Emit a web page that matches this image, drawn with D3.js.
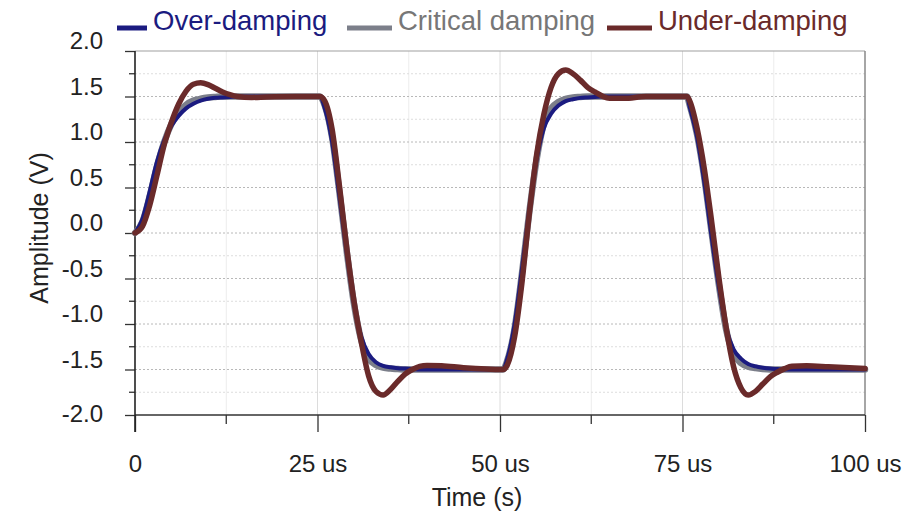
<!DOCTYPE html>
<html>
<head>
<meta charset="utf-8">
<script src="https://cdn.jsdelivr.net/npm/d3@7"></script>
<style>
  html, body { margin: 0; padding: 0; background: #fff; }
  svg text { font-family: "Liberation Sans", Arial, sans-serif; }
</style>
</head>
<body>
<svg id="chart" width="924" height="516"></svg>
<script>
// Sample times (microseconds)
const times = [
  0, 1, 2, 3, 4, 5, 6, 7, 8, 9, 10, 11, 12, 13, 14, 16, 18, 22,
  25.3, 26, 27, 28, 29, 30, 31, 32, 33, 34, 35, 36, 37, 38, 39, 40, 42, 45,
  50.4, 51, 52, 53, 54, 55, 56, 57, 58, 59, 60, 61, 62, 63, 64, 65, 67, 70,
  75.6, 76, 77, 78, 79, 80, 81, 82, 83, 84, 85, 86, 87, 88, 89, 90, 92, 95, 100
];

// Amplitude (V) of each response
const overDamping = [
  0, 0.15, 0.45, 0.78, 1.02, 1.18, 1.29, 1.37, 1.42, 1.455, 1.475, 1.485, 1.49, 1.495, 1.5, 1.5, 1.5, 1.5,
  1.5, 1.37, 1.0, 0.4, -0.22, -0.78, -1.14, -1.33, -1.42, -1.46, -1.475, -1.485, -1.49, -1.495, -1.5, -1.5, -1.5, -1.5,
  -1.5, -1.38, -1.0, -0.4, 0.25, 0.8, 1.15, 1.31, 1.4, 1.45, 1.47, 1.485, 1.49, 1.495, 1.5, 1.5, 1.5, 1.5,
  1.5, 1.38, 1.05, 0.55, -0.05, -0.6, -1.05, -1.28, -1.38, -1.44, -1.465, -1.48, -1.49, -1.495, -1.5, -1.5, -1.5, -1.5, -1.5
];
const criticalDamping = [
  0, 0.12, 0.4, 0.73, 1.0, 1.2, 1.33, 1.41, 1.455, 1.475, 1.488, 1.495, 1.5, 1.5, 1.5, 1.5, 1.5, 1.5,
  1.5, 1.4, 1.05, 0.45, -0.2, -0.78, -1.18, -1.38, -1.45, -1.48, -1.49, -1.495, -1.5, -1.5, -1.5, -1.5, -1.5, -1.5,
  -1.5, -1.4, -1.05, -0.45, 0.22, 0.8, 1.2, 1.37, 1.44, 1.475, 1.49, 1.495, 1.5, 1.5, 1.5, 1.5, 1.5, 1.5,
  1.5, 1.4, 1.08, 0.6, 0.0, -0.58, -1.07, -1.33, -1.43, -1.47, -1.485, -1.495, -1.5, -1.5, -1.5, -1.5, -1.5, -1.5, -1.5
];
const underDamping = [
  0, 0.07, 0.3, 0.63, 0.97, 1.22, 1.42, 1.56, 1.635, 1.65, 1.63, 1.59, 1.55, 1.52, 1.5, 1.49, 1.495, 1.5,
  1.5, 1.45, 1.14, 0.52, -0.16, -0.75, -1.2, -1.57, -1.74, -1.78, -1.72, -1.63, -1.55, -1.5, -1.465, -1.455, -1.46, -1.48,
  -1.5, -1.45, -1.14, -0.55, 0.2, 0.85, 1.3, 1.6, 1.75, 1.79, 1.75, 1.68, 1.6, 1.55, 1.505, 1.48, 1.48, 1.5,
  1.5, 1.45, 1.15, 0.7, 0.12, -0.5, -1.05, -1.47, -1.7, -1.78, -1.74, -1.66, -1.58, -1.53, -1.49, -1.465, -1.46, -1.47, -1.49
];

const seriesNames = ["Over-damping", "Critical damping", "Under-damping"];
const xTickValues = [0, 25, 50, 75, 100];
const xTickLabels = ["0", "25 us", "50 us", "75 us", "100 us"];
const yTickValues = [-2, -1.5, -1, -0.5, 0, 0.5, 1, 1.5, 2];
const xAxisTitle = "Time (s)";
const yAxisTitle = "Amplitude (V)";

// ---- layout & styling ----
const W = 924, H = 516;
const plot = { left: 135, right: 865, top: 51, bottom: 415 };
const colors = {
  "Over-damping": "#1b1b80",
  "Critical damping": "#7c7f8a",
  "Under-damping": "#6a2a2a"
};
const textColors = {
  "Over-damping": "#1b1b80",
  "Critical damping": "#777777",
  "Under-damping": "#6a2a2a"
};
const widths = { "Over-damping": 4, "Critical damping": 6.5, "Under-damping": 5.5 };

const svg = d3.select("#chart");
svg.append("rect").attr("width", W).attr("height", H).attr("fill", "#fff");

const x = d3.scaleLinear().domain([0, 100]).range([plot.left, plot.right]);
const y = d3.scaleLinear().domain([-2, 2]).range([plot.bottom, plot.top]);

// grid
const grid = svg.append("g");
const minorX = d3.range(12.5, 100, 12.5);
grid.selectAll("line.vx").data(minorX).join("line")
  .attr("x1", d => x(d)).attr("x2", d => x(d))
  .attr("y1", plot.top).attr("y2", plot.bottom)
  .attr("stroke", d => d % 25 === 0 ? "#dcdcdc" : "#ececec")
  .attr("stroke-width", 1);

const gridY = d3.range(-1.75, 2, 0.25);
grid.selectAll("line.hy").data(gridY).join("line")
  .attr("x1", plot.left).attr("x2", plot.right)
  .attr("y1", d => y(d)).attr("y2", d => y(d))
  .attr("stroke", d => Math.abs(d * 2 - Math.round(d * 2)) < 1e-9 ? "#b8b8b8" : "#dddddd")
  .attr("stroke-width", 1)
  .attr("stroke-dasharray", "2,2");

// top and right frame
svg.append("line")
  .attr("x1", plot.left).attr("x2", plot.right)
  .attr("y1", y(2)).attr("y2", y(2))
  .attr("stroke", "#a0a0a0").attr("stroke-width", 1.2);
svg.append("line")
  .attr("x1", x(100)).attr("x2", x(100))
  .attr("y1", y(2)).attr("y2", plot.bottom)
  .attr("stroke", "#888").attr("stroke-width", 1.5);

// axes
const fmt1 = d3.format(".1f");
const fmtY = d => fmt1(d).replace("\u2212", "-");
const yAxis = d3.axisLeft(y)
  .tickValues(yTickValues)
  .tickSize(10)
  .tickPadding(22)
  .tickFormat(fmtY);
const gy = svg.append("g").attr("transform", `translate(${plot.left},0)`).call(yAxis);
gy.select(".domain").remove();
gy.selectAll(".tick line").attr("stroke", "#333").attr("stroke-width", 1.3);
gy.selectAll(".tick text")
  .attr("font-size", 24).attr("fill", "#222")
  .attr("dy", (d, i) => i === 0 ? "0.28em" : "-0.1em");

// minor y ticks
svg.append("g").selectAll("line").data(d3.range(-1.75, 2, 0.5)).join("line")
  .attr("x1", plot.left - 6).attr("x2", plot.left)
  .attr("y1", d => y(d)).attr("y2", d => y(d))
  .attr("stroke", "#333").attr("stroke-width", 1.3);

const xAxis = d3.axisBottom(x)
  .tickValues(xTickValues)
  .tickSize(17)
  .tickPadding(23)
  .tickFormat((d, i) => xTickLabels[i]);
const gx = svg.append("g").attr("transform", `translate(0,${plot.bottom})`).call(xAxis);
gx.select(".domain").remove();
gx.selectAll(".tick line").attr("stroke", "#333").attr("stroke-width", 1.3);
gx.selectAll(".tick text").attr("font-size", 24).attr("fill", "#222");

// minor x ticks
svg.append("g").selectAll("line").data(d3.range(12.5, 100, 25)).join("line")
  .attr("x1", d => x(d)).attr("x2", d => x(d))
  .attr("y1", plot.bottom).attr("y2", plot.bottom + 9)
  .attr("stroke", "#333").attr("stroke-width", 1.3);

// axis lines
svg.append("line")
  .attr("x1", plot.left).attr("x2", plot.right)
  .attr("y1", plot.bottom).attr("y2", plot.bottom)
  .attr("stroke", "#333").attr("stroke-width", 1.5);
svg.append("line")
  .attr("x1", plot.left).attr("x2", plot.left)
  .attr("y1", plot.top).attr("y2", plot.bottom + 17)
  .attr("stroke", "#222").attr("stroke-width", 1.6);

// axis titles
svg.append("text")
  .attr("x", 477).attr("y", 506)
  .attr("text-anchor", "middle")
  .attr("font-size", 25).attr("fill", "#222")
  .text(xAxisTitle);
svg.append("text")
  .attr("transform", `translate(48,228) rotate(-90)`)
  .attr("text-anchor", "middle")
  .attr("font-size", 25).attr("fill", "#222")
  .text(yAxisTitle);

// curves
const seriesValues = {
  "Over-damping": overDamping,
  "Critical damping": criticalDamping,
  "Under-damping": underDamping
};
const line = d3.line()
  .x(d => x(d[0]))
  .y(d => y(d[1]))
  .curve(d3.curveMonotoneX);

const drawOrder = ["Critical damping", "Over-damping", "Under-damping"];
const curves = svg.append("g");
drawOrder.forEach(name => {
  const pts = times.map((t, i) => [t, seriesValues[name][i]]);
  curves.append("path")
    .datum(pts)
    .attr("d", line)
    .attr("fill", "none")
    .attr("stroke", colors[name])
    .attr("stroke-width", widths[name])
    .attr("stroke-linejoin", "round")
    .attr("stroke-linecap", "round");
});

// legend
const legendX = [117, 347, 607];
const legend = svg.append("g");
seriesNames.forEach((name, i) => {
  const lx = legendX[i];
  const sw = i === 0 ? 30 : 45;
  legend.append("line")
    .attr("x1", lx).attr("x2", lx + sw)
    .attr("y1", 28).attr("y2", 28)
    .attr("stroke", colors[name]).attr("stroke-width", 5);
  legend.append("text")
    .attr("x", lx + sw + 6).attr("y", 30)
    .attr("font-size", 27.5)
    .attr("fill", textColors[name])
    .text(name);
});
</script>
</body>
</html>
